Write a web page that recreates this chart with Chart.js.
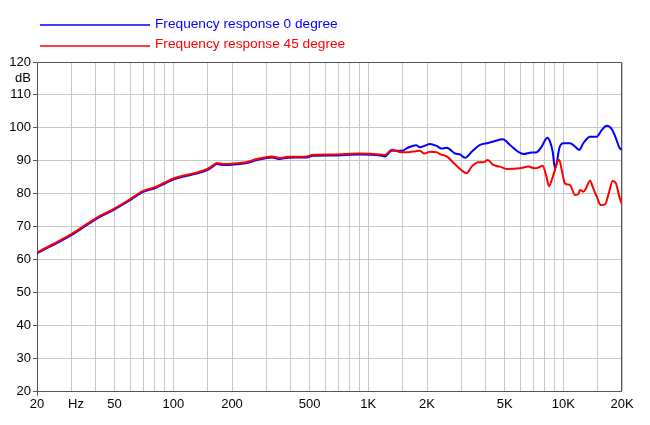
<!DOCTYPE html>
<html>
<head>
<meta charset="utf-8">
<script src="https://cdn.jsdelivr.net/npm/chart.js@4"></script>
<style>
html,body{margin:0;padding:0;background:#fff;}
#wrap{width:650px;height:425px;position:relative;}
</style>
</head>
<body>
<div id="wrap"><canvas id="c" width="650" height="425"></canvas></div>
<script>
const seriesLabels = ["Frequency response 0 degree", "Frequency response 45 degree"];
const seriesColors = ["#0000ff", "#ff0000"];

const freq0 = [20,30,40,50,60,70,76,80,90,100,115,130,150,160,167,180,200,238,268,320,352,387,483,520,660,900,1150,1218,1318,1484,1604,1758,1842,1938,2073,2243,2378,2524,2784,2952,3132,3390,3740,4126,4464,4890,5330,5878,6232,6886,7304,7748,8280,8548,8824,9066,9250,9540,10000,10824,11482,12080,12660,13700,14840,15740,16700,17720,18620,19380,20000];
const db0 = [61.8,67.4,72.2,75.2,78.0,80.5,81.2,81.6,83.0,84.3,85.3,86.0,87.2,88.3,89.0,88.7,88.8,89.3,90.2,91.0,90.5,90.9,91.0,91.5,91.6,91.9,91.6,91.3,93.0,93.0,94.0,94.7,94.1,94.5,95.1,94.5,93.7,93.9,92.2,91.9,90.9,92.7,94.8,95.4,96.0,96.5,94.8,92.7,92.0,92.5,92.6,94.3,97.0,95.8,92.7,87.7,89.2,93.8,95.3,95.3,94.3,93.3,95.3,97.3,97.3,99.3,100.6,99.6,96.8,94.0,93.3];

const freq45 = [20,30,40,50,60,70,76,80,90,100,115,130,150,160,167,180,200,238,268,320,352,387,483,520,660,900,1150,1218,1318,1484,1604,1758,1842,1938,2073,2243,2332,2524,2784,3071,3196,3390,3666,3888,4096,4376,4736,5126,5998,6614,7158,7444,7840,8152,8448,8720,9066,9316,9540,9814,10202,10824,11482,11940,12180,12660,13080,13700,14252,14840,15560,16360,17020,17920,18620,19380,20000];
const db45 = [62.1,67.7,72.5,75.5,78.3,80.8,81.5,81.9,83.3,84.6,85.6,86.3,87.5,88.6,89.3,89.0,89.1,89.6,90.5,91.3,90.8,91.2,91.3,91.8,91.9,92.2,91.9,91.7,93.3,92.6,92.6,92.9,93.0,92.2,92.7,92.6,92.0,91.3,88.9,86.7,86.2,88.2,89.5,89.5,90.2,88.7,88.2,87.5,87.7,88.2,87.7,87.9,88.5,85.7,82.3,84.1,87.2,89.7,90.2,87.2,83.1,82.6,79.6,79.8,81.1,80.6,81.6,83.9,81.6,79.1,76.5,76.7,79.6,83.8,83.1,79.1,76.7];

const xGridValues = [20,30,40,50,60,70,80,90,100,150,200,300,400,500,600,700,800,900,1000,1500,2000,3000,4000,5000,6000,7000,8000,9000,10000,15000,20000];
const xLabelValues = [20,31.7,50,100,200,500,1000,2000,5000,10000,20000];
const xLabelTexts = ["20","Hz","50","100","200","500","1K","2K","5K","10K","20K"];
const yTickValues = [20,30,40,50,60,70,80,90,100,110,120];
const yUnitValue = 115;
const yUnitText = "dB";

const FONT = {family: "'Liberation Sans', Arial, sans-serif", size: 13};
const LEGEND_FONT_SIZE = 13.7;

function pts(fs, vs){ return fs.map((f,i)=>({x:f, y:vs[i]})); }

const framePlugin = {
  id: 'frame',
  beforeDatasetsDraw(chart){
    const a = chart.chartArea, ctx = chart.ctx;
    const l = Math.round(a.left)+0.5, t = Math.round(a.top)+0.5;
    const r = Math.round(a.right)-0.5, b = Math.round(a.bottom)+0.5;
    ctx.save();
    ctx.strokeStyle = '#555555';
    ctx.lineWidth = 1;
    ctx.beginPath();
    ctx.moveTo(l, t); ctx.lineTo(r, t); ctx.lineTo(r, b); ctx.lineTo(l, b); ctx.closePath();
    ctx.moveTo(l, b); ctx.lineTo(l, b + 4);
    ctx.stroke();
    ctx.restore();
  }
};

const legendPlugin = {
  id: 'customLegend',
  afterDraw(chart){
    const ctx = chart.ctx;
    ctx.save();
    ctx.font = LEGEND_FONT_SIZE + "px " + FONT.family;
    ctx.textBaseline = 'middle';
    ctx.textAlign = 'left';
    chart.data.datasets.forEach((ds, i) => {
      const y = 25 + i*20.5;
      ctx.strokeStyle = ds.borderColor;
      ctx.lineWidth = 1.5;
      ctx.beginPath();
      ctx.moveTo(40, Math.round(y));
      ctx.lineTo(150, Math.round(y));
      ctx.stroke();
      ctx.fillStyle = ds.borderColor;
      ctx.fillText(ds.label, 155, y - 1);
    });
    ctx.restore();
  }
};

const xAllTicks = xGridValues.concat(xLabelValues.filter(v => xGridValues.indexOf(v) < 0)).sort((a,b)=>a-b);

new Chart(document.getElementById('c'), {
  type: 'line',
  data: {
    datasets: [
      {label: seriesLabels[0], data: pts(freq0, db0), borderColor: seriesColors[0], backgroundColor: seriesColors[0], borderWidth: 2, pointRadius: 0, cubicInterpolationMode: 'monotone', order: 2},
      {label: seriesLabels[1], data: pts(freq45, db45), borderColor: seriesColors[1], backgroundColor: seriesColors[1], borderWidth: 2, pointRadius: 0, cubicInterpolationMode: 'monotone', order: 1}
    ]
  },
  options: {
    responsive: false,
    animation: false,
    devicePixelRatio: 1,
    layout: {padding: {top: 62, right: 28, left: 0, bottom: 0}},
    plugins: {legend: {display: false}, tooltip: {enabled: false}},
    scales: {
      x: {
        type: 'logarithmic',
        min: 20, max: 20000,
        afterBuildTicks(scale){ scale.ticks = xAllTicks.map(v => ({value: v})); },
        afterFit(scale){ scale.height = 34; },
        ticks: {
          autoSkip: false, maxRotation: 0, minRotation: 0, padding: 6,
          color: '#000', font: FONT,
          callback(v){ const k = xLabelValues.indexOf(v); return k >= 0 ? xLabelTexts[k] : ''; }
        },
        grid: {
          color: ctx => (ctx.tick && xGridValues.indexOf(ctx.tick.value) < 0) ? 'rgba(0,0,0,0)' : '#c8c8c8',
          lineWidth: 1, drawTicks: false
        },
        border: {display: false}
      },
      y: {
        type: 'linear',
        min: 20, max: 120,
        afterBuildTicks(scale){ scale.ticks = yTickValues.concat([yUnitValue]).sort((a,b)=>a-b).map(v => ({value: v})); },
        afterFit(scale){ scale.width = 37; },
        ticks: {
          autoSkip: false, padding: 2, color: '#000', font: FONT,
          callback(v){ return v === yUnitValue ? yUnitText : String(v); }
        },
        grid: {
          color: ctx => (ctx.tick && ctx.tick.value === yUnitValue) ? 'rgba(0,0,0,0)' : '#c8c8c8',
          tickColor: ctx => (ctx.tick && ctx.tick.value === yUnitValue) ? 'rgba(0,0,0,0)' : '#555555',
          tickLength: 4,
          lineWidth: 1
        },
        border: {display: false}
      }
    }
  },
  plugins: [framePlugin, legendPlugin]
});
</script>
</body>
</html>
